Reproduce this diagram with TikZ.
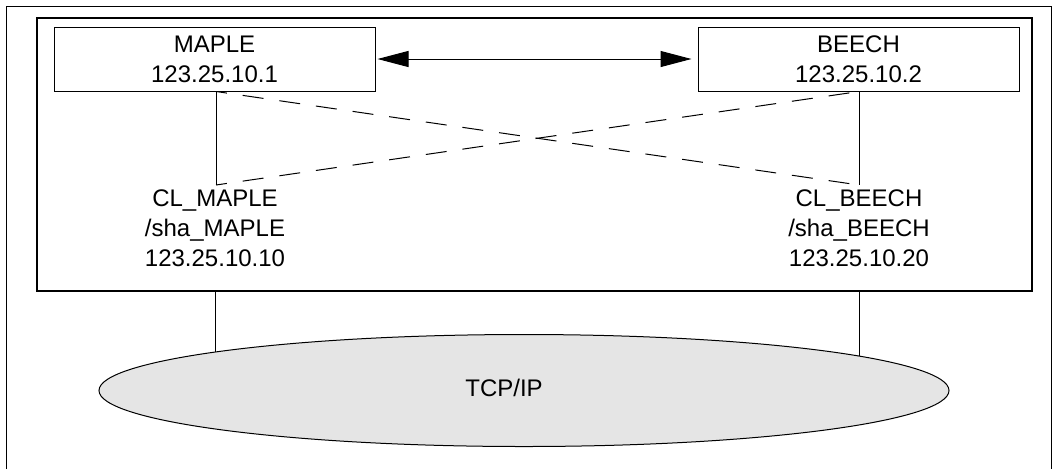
\documentclass[tikz,border=0pt]{standalone}
\usepackage{fontspec}
\setmainfont{Liberation Sans}
\usetikzlibrary{arrows.meta,shapes.geometric}
\begin{document}
\begin{tikzpicture}[x=0.75pt,y=-0.75pt,
  lbl/.style={font=\fontsize{18}{22.5}\selectfont, align=center, inner sep=0pt},
  hostbox/.style={draw, line width=0.75pt, minimum width=240.75pt, minimum height=48pt,
    inner sep=0pt, font=\fontsize{18}{22.5}\selectfont, align=center},
  thinline/.style={line width=0.75pt},
  dashline/.style={line width=0.75pt, dash pattern=on 15.75pt off 12pt, dash phase=7.5pt},
  bigarrow/.style={line width=0.75pt, >={Triangle[length=23.25pt,width=12pt]}, <->}
]
\useasboundingbox (0,0) rectangle (1055,469);
\draw[thinline] (6,469) -- (6,6) -- (1051,6) -- (1051,469);
\node[draw, line width=2pt, minimum width=746.25pt, minimum height=204.75pt, inner sep=0pt] (cluster) at (534.5,154.5) {};
\node[hostbox] (maple) at (214.5,59) {MAPLE\\123.25.10.1};
\node[hostbox] (beech) at (858.5,59) {BEECH\\123.25.10.2};
\node[lbl] (clmaple) at (215,228) {CL\_MAPLE\\/sha\_MAPLE\\123.25.10.10};
\node[lbl] (clbeech) at (859,228) {CL\_BEECH\\/sha\_BEECH\\123.25.10.20};
\node[draw, ellipse, thinline, fill=gray!20, minimum width=637.5pt, minimum height=84pt, inner sep=0pt] (net) at (524,390.5) {};
\node[lbl] (tcp) at (504,387.5) {TCP/IP};
\coordinate (m1) at (216,185);
\coordinate (b1) at (859,185);
\coordinate (m2) at (215,352);
\coordinate (b2) at (859,356);
\draw[thinline] (maple.south -| m1) -- (m1);
\draw[thinline] (beech.south -| b1) -- (b1);
\draw[dashline] (maple.south -| m1) -- (b1);
\draw[dashline] (m1) -- (beech.south -| b1);
\draw[thinline] (cluster.south -| m2) -- (m2);
\draw[thinline] (cluster.south -| b2) -- (b2);
\draw[bigarrow, shorten <=1.5pt, shorten >=4.5pt] (maple) -- (beech);
\end{tikzpicture}
\end{document}
